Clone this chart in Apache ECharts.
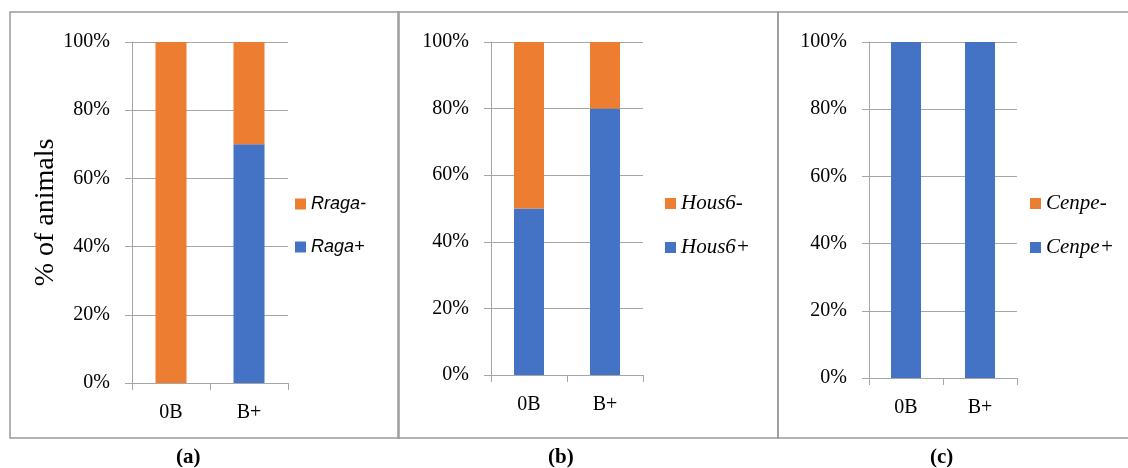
<!DOCTYPE html>
<html>
<head>
<meta charset="utf-8">
<script src="https://cdn.jsdelivr.net/npm/echarts@6/dist/echarts.min.js"></script>
<style>
  html, body { margin: 0; padding: 0; background: #fff; }
  #chart { width: 1128px; height: 468px; }
</style>
</head>
<body>
<div id="chart"></div>
<script>
// Genotype proportions per group (percent of animals)
const categories = ['0B', 'B+'];
const ragaPlus   = [0, 70];
const rragaMinus = [100, 30];
const hous6Plus  = [50, 80];
const hous6Minus = [50, 20];
const cenpePlus  = [100, 100];
const cenpeMinus = [0, 0];

const ORANGE = '#ED7D31';
const BLUE = '#4472C4';
const GREY = '#a6a6a6';
const BORDER = '#9a9a9a';
const SERIF = '"Liberation Serif", "DejaVu Serif", serif';
const SANS = '"Liberation Sans", "DejaVu Sans", sans-serif';

const panels = [
  { grid: { left: 132, top: 42, width: 156, height: 341 }, barWidth: 31,
    plus: ['Raga+', ragaPlus], minus: ['Rraga-', rragaMinus],
    legend: { left: 295, top: 194 }, legendFont: SANS, legendSize: 18, yName: '% of animals' },
  { grid: { left: 491, top: 42, width: 152, height: 333 }, barWidth: 30,
    plus: ['Hous6+', hous6Plus], minus: ['Hous6-', hous6Minus],
    legend: { left: 665, top: 193 }, legendFont: SERIF, legendSize: 21, yName: '' },
  { grid: { left: 869, top: 42, width: 148, height: 336 }, barWidth: 30,
    plus: ['Cenpe+', cenpePlus], minus: ['Cenpe-', cenpeMinus],
    legend: { left: 1030, top: 193 }, legendFont: SERIF, legendSize: 21, yName: '' }
];

const option = {
  animation: false,
  grid: panels.map(p => p.grid),
  xAxis: panels.map((p, i) => ({
    type: 'category', gridIndex: i, data: categories,
    axisLine: { lineStyle: { color: GREY, width: 1 } },
    axisTick: { show: true, length: 7, lineStyle: { color: GREY } },
    axisLabel: { color: '#000', fontFamily: SERIF, fontSize: 20, margin: 20 }
  })),
  yAxis: panels.map((p, i) => ({
    type: 'value', gridIndex: i, min: 0, max: 100, interval: 20,
    name: p.yName, nameLocation: 'middle', nameGap: 72,
    nameTextStyle: { color: '#000', fontFamily: SERIF, fontSize: 28 },
    axisLine: { show: true, lineStyle: { color: GREY, width: 1 } },
    axisTick: { show: true, length: 7, lineStyle: { color: GREY } },
    splitLine: { show: true, lineStyle: { color: GREY, width: 1 } },
    axisLabel: { color: '#000', fontFamily: SERIF, fontSize: 20, margin: 22, formatter: '{value}%' }
  })),
  legend: panels.map(p => ({
    orient: 'vertical', left: p.legend.left, top: p.legend.top, padding: 0,
    itemWidth: 11, itemHeight: 11, itemGap: 23, icon: 'rect',
    data: [p.minus[0], p.plus[0]],
    textStyle: { fontFamily: p.legendFont, fontStyle: 'italic', fontSize: p.legendSize,
                 color: '#000', lineHeight: 20 }
  })),
  series: panels.flatMap((p, i) => [
    { name: p.plus[0], type: 'bar', stack: 'g' + i, xAxisIndex: i, yAxisIndex: i,
      data: p.plus[1], barWidth: p.barWidth, itemStyle: { color: BLUE } },
    { name: p.minus[0], type: 'bar', stack: 'g' + i, xAxisIndex: i, yAxisIndex: i,
      data: p.minus[1], barWidth: p.barWidth, itemStyle: { color: ORANGE } }
  ]),
  graphic: [
    { type: 'rect', shape: { x: 10, y: 12, width: 389, height: 426 }, silent: true,
      style: { fill: 'none', stroke: BORDER, lineWidth: 1.5 } },
    { type: 'rect', shape: { x: 398, y: 12, width: 380, height: 426 }, silent: true,
      style: { fill: 'none', stroke: BORDER, lineWidth: 1.5 } },
    { type: 'rect', shape: { x: 778, y: 12, width: 360, height: 426 }, silent: true,
      style: { fill: 'none', stroke: BORDER, lineWidth: 1.5 } },
    { type: 'text', left: 176, top: 447,
      style: { text: '(a)', font: 'bold 21px ' + SERIF, fill: '#000' } },
    { type: 'text', left: 548, top: 447,
      style: { text: '(b)', font: 'bold 21px ' + SERIF, fill: '#000' } },
    { type: 'text', left: 930, top: 447,
      style: { text: '(c)', font: 'bold 21px ' + SERIF, fill: '#000' } }
  ]
};

const chart = echarts.init(document.getElementById('chart'));
chart.setOption(option);
</script>
</body>
</html>
